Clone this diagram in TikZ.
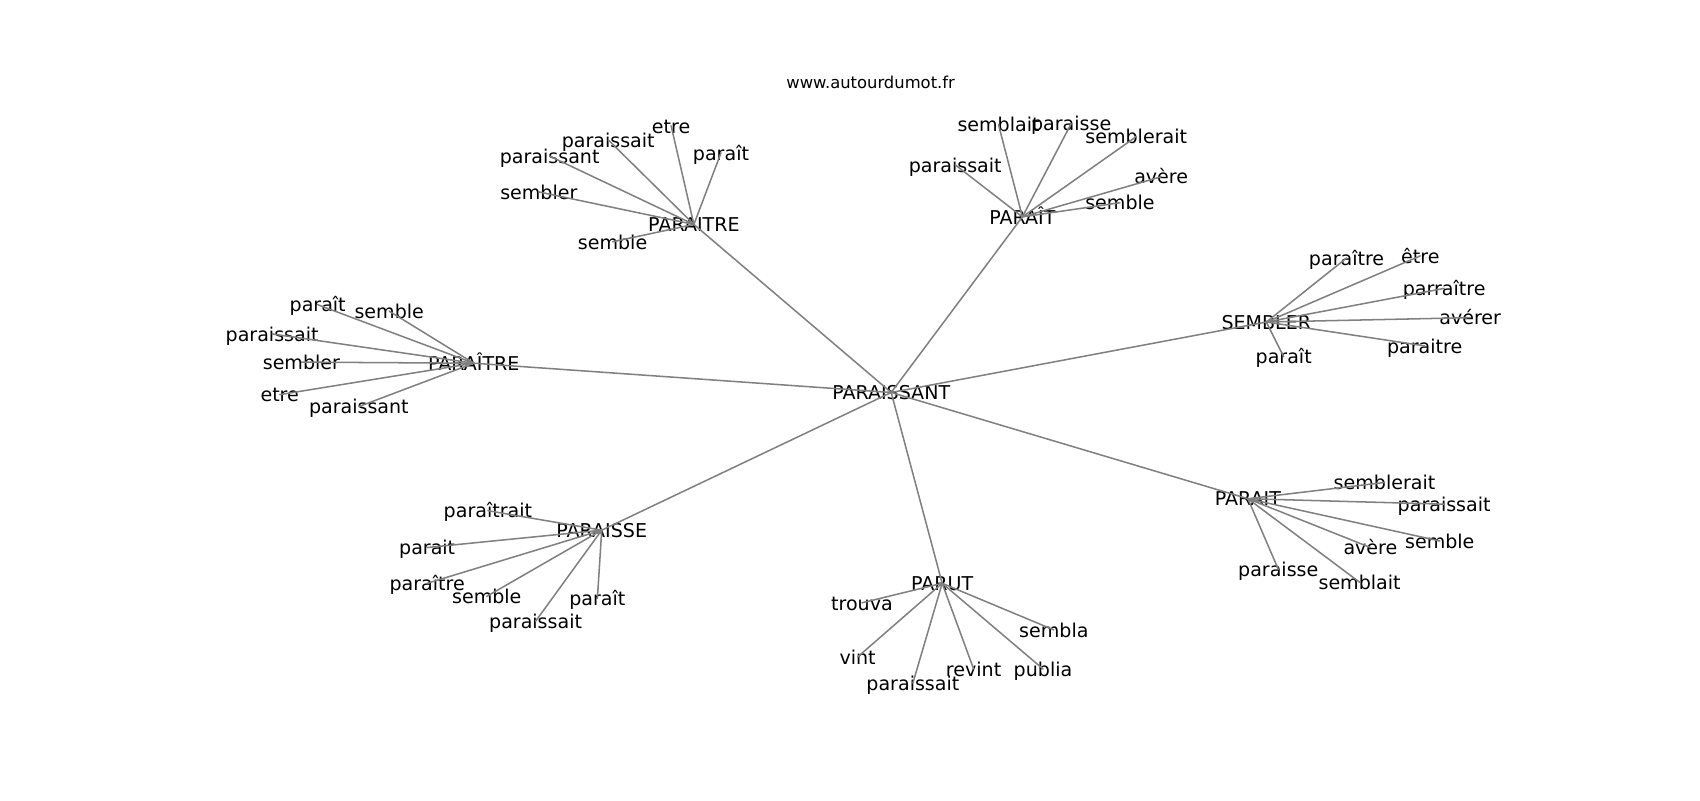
\documentclass[tikz,border=0pt]{standalone}
\usepackage{fontspec}
\setmainfont{DejaVu Sans}
\begin{document}
\begin{tikzpicture}[x=0.02cm, y=-0.02cm, line join=round, line cap=round,
    lbl/.style={inner sep=0pt, text height=0.92em, text depth=0.16em, font=\fontsize{10}{12}\selectfont},
    hub/.style={lbl},
    edge/.style={draw=gray, line width=0.8pt}]
    \useasboundingbox (0,0) rectangle (1568,738);
    \node[font=\fontsize{8.6}{10}\selectfont] (title) at (803,76) {www.autourdumot.fr};
    % centre et groupes
    \node[hub] (center) at (822,362) {PARAISSANT};
    \node[hub] (paraitreA) at (640,207) {PARAITRE};
    \node[hub] (paraitA) at (943,200) {PARAÎT};
    \node[hub] (sembler) at (1168,297) {SEMBLER};
    \node[hub] (paraitreB) at (437,335) {PARAÎTRE};
    \node[hub] (paraitB) at (1151,460) {PARAIT};
    \node[hub] (paraisse) at (555,489) {PARAISSE};
    \node[hub] (parut) at (869,538) {PARUT};
    \foreach \h in {paraitreA,paraitA,sembler,paraitreB,paraitB,paraisse,parut}
        \draw[edge] (center.center) -- (\h.center);
    % feuilles
    \foreach \t/\x/\y [count=\i] in {etre/619/116, paraissait/561/129, paraît/665/141,
        paraissant/507/144, sembler/497/177, semble/565/223} {
        \node[lbl] (a\i) at (\x,\y) {\t};
        \draw[edge] (paraitreA.center) -- (a\i.center);
    }
    \foreach \t/\x/\y [count=\i] in {semblait/921/115, paraisse/988/114, semblerait/1048/126,
        paraissait/881/152, avère/1071/163, semble/1033/187} {
        \node[lbl] (b\i) at (\x,\y) {\t};
        \draw[edge] (paraitA.center) -- (b\i.center);
    }
    \foreach \t/\x/\y [count=\i] in {paraître/1242/238, être/1310/236, parraître/1332/266,
        avérer/1356/293, paraitre/1314/319, paraît/1184/329} {
        \node[lbl] (c\i) at (\x,\y) {\t};
        \draw[edge] (sembler.center) -- (c\i.center);
    }
    \foreach \t/\x/\y [count=\i] in {paraît/293/281, semble/359/287, paraissait/251/308,
        sembler/278/334, etre/258/364, paraissant/331/375} {
        \node[lbl] (d\i) at (\x,\y) {\t};
        \draw[edge] (paraitreB.center) -- (d\i.center);
    }
    \foreach \t/\x/\y [count=\i] in {semblerait/1277/445, paraissait/1332/465, semble/1328/499,
        avère/1264/505, paraisse/1179/525, semblait/1254/537} {
        \node[lbl] (e\i) at (\x,\y) {\t};
        \draw[edge] (paraitB.center) -- (e\i.center);
    }
    \foreach \t/\x/\y [count=\i] in {paraîtrait/450/471, parait/394/505, paraître/394/538,
        semble/449/550, paraît/551/552, paraissait/494/573} {
        \node[lbl] (f\i) at (\x,\y) {\t};
        \draw[edge] (paraisse.center) -- (f\i.center);
    }
    \foreach \t/\x/\y [count=\i] in {trouva/795/556, vint/791/606, paraissait/842/630,
        revint/898/617, publia/962/617, sembla/972/581} {
        \node[lbl] (g\i) at (\x,\y) {\t};
        \draw[edge] (parut.center) -- (g\i.center);
    }
\end{tikzpicture}
\end{document}
